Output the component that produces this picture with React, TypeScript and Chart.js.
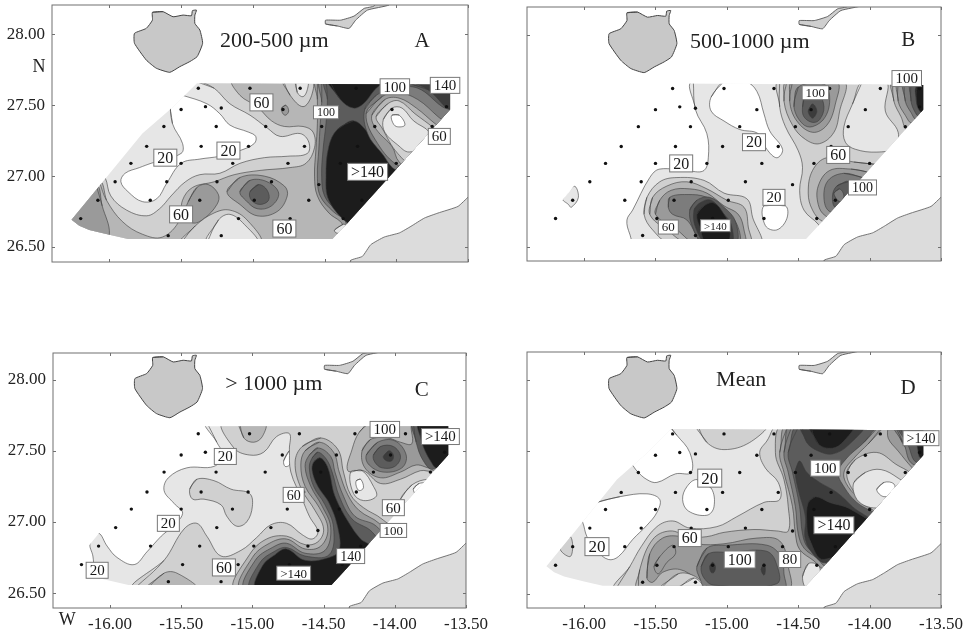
import { useEffect, useRef } from "react";
import { Chart, registerables } from "chart.js";
Chart.register(...registerables);

type P = number[][];

const xTickValues = [-16, -15.5, -15, -14.5, -14, -13.5];
const yTickValues = [26.5, 27, 27.5, 28];

const stationLon = [-15.38,-15.02,-14.67,-14.28,-13.925,-13.65,-15.5,-15.33,-15.22,-14.79,-14.41,-14.03,-13.65,-15.62,-15.255,-14.91,-14.52,-14.15,-13.75,-15.74,-15.36,-15.03,-14.64,-14.27,-15.85,-15.5,-15.14,-14.755,-14.39,-14.0,-15.96,-15.6,-15.25,-14.87,-14.54,-16.08,-15.715,-15.37,-14.99,-14.61,-14.24,-16.2,-15.49,-15.1,-14.74,-14.37,-15.59,-15.22];
const stationLat = [27.62,27.62,27.62,27.62,27.62,27.62,27.47,27.49,27.48,27.47,27.47,27.47,27.49,27.35,27.35,27.35,27.35,27.35,27.35,27.21,27.21,27.21,27.21,27.21,27.09,27.09,27.09,27.09,27.09,27.09,26.96,26.96,26.96,26.96,26.94,26.83,26.83,26.83,26.83,26.83,26.83,26.7,26.7,26.7,26.7,26.7,26.58,26.58];

const granCanaria: P = [[-15.7,28.155],[-15.626,28.16],[-15.556,28.124],[-15.486,28.136],[-15.428,28.131],[-15.421,28.167],[-15.393,28.171],[-15.404,28.136],[-15.404,28.077],[-15.369,28.03],[-15.35,27.937],[-15.388,27.843],[-15.439,27.808],[-15.509,27.772],[-15.579,27.732],[-15.673,27.761],[-15.743,27.819],[-15.825,27.937],[-15.825,28.007],[-15.743,28.042],[-15.7,28.1]];
const fuerteventura: P = [[-14.493,28.073],[-14.411,28.059],[-14.329,28.042],[-14.283,28.1],[-14.201,28.171],[-14.05,28.207],[-14.05,28.25],[-14.154,28.25],[-14.154,28.2],[-14.224,28.183],[-14.294,28.129],[-14.388,28.1],[-14.493,28.1]];
const africa: P = [[-14.318,26.364],[-14.318,26.406],[-14.236,26.434],[-14.178,26.516],[-14.084,26.57],[-13.979,26.599],[-13.897,26.646],[-13.804,26.704],[-13.71,26.739],[-13.57,26.786],[-13.493,26.857],[-13.45,26.88],[-13.45,26.364]];
const domain: P = [[-15.39,27.655],[-13.625,27.645],[-13.625,27.47],[-14.34,26.67],[-14.445,26.556],[-15.87,26.556],[-16.0,26.586],[-16.14,26.62],[-16.21,26.65],[-16.264,26.692],[-16.09,26.905],[-15.77,27.3],[-15.555,27.49]];
const domainC: P = [[-15.39,27.672],[-13.625,27.672],[-13.625,27.47],[-14.34,26.67],[-14.445,26.556],[-15.87,26.556],[-16.0,26.586],[-16.14,26.62],[-16.21,26.65],[-16.264,26.692],[-16.09,26.905],[-15.77,27.3],[-15.555,27.49]];

const outerA: P = [[-16.33,26.72],[-16.12,26.43],[-14.2,26.42],[-13.52,27.54],[-13.52,27.7],[-14.43,27.7]];
const outerB: P = [[-14.2,26.42],[-13.52,27.54],[-13.52,27.7]];
const outerC: P = [[-13.52,27.7],[-13.52,27.54],[-14.2,26.42]];

// Panel A
const a2: P = [[-15.4,27.68],[-15.27,27.62],[-15.16,27.51],[-15.02,27.43],[-14.9,27.34],[-14.81,27.28],[-14.67,27.3],[-14.61,27.24],[-14.62,27.16],[-14.76,27.14],[-14.92,27.13],[-15.09,27.09],[-15.23,27.02],[-15.37,27.01],[-15.47,26.96],[-15.57,26.86],[-15.65,26.77],[-15.74,26.72],[-15.88,26.76],[-15.99,26.86],[-16.03,26.99],[-16.07,27.02],...outerA];
const a0: P = [[-15.58,27.54],[-15.56,27.37],[-15.49,27.23],[-15.5,27.16],[-15.71,27.09],[-15.79,27.06],[-15.89,27.02],[-15.92,26.96],[-15.87,26.89],[-15.77,26.82],[-15.67,26.84],[-15.6,26.95],[-15.5,27.09],[-15.37,27.12],[-15.23,27.14],[-15.09,27.18],[-14.99,27.23],[-14.98,27.28],[-15.03,27.31],[-15.16,27.36],[-15.23,27.44],[-15.32,27.51],[-15.49,27.57],[-15.56,27.59]];
const a3: P = [[-16.07,26.96],[-16.02,26.83],[-15.91,26.68],[-15.77,26.59],[-15.63,26.57],[-15.51,26.69],[-15.49,26.83],[-15.42,26.92],[-15.27,26.96],[-15.13,27.01],[-14.95,27.04],[-14.74,27.06],[-14.63,27.09],[-14.57,27.2],[-14.58,27.31],[-14.65,27.35],[-14.78,27.35],[-14.87,27.39],[-14.97,27.49],[-15.09,27.57],[-15.14,27.68],[-14.43,27.7],[-13.52,27.7],[-13.52,27.54],[-14.2,26.42],[-16.12,26.43],[-16.33,26.72]];
const aCorner: P = [[-16.09,26.93],[-16.05,26.79],[-16.0,26.59],[-16.07,26.5],[-16.33,26.6],[-16.3,26.74]];
const aBlob: P = [[-15.45,26.82],[-15.39,26.92],[-15.31,26.94],[-15.24,26.87],[-15.25,26.8],[-15.34,26.7],[-15.42,26.67],[-15.47,26.74]];
const aBot2: P = [[-15.5,26.53],[-15.4,26.65],[-15.27,26.74],[-15.16,26.76],[-15.04,26.69],[-14.95,26.53]];
const aBot1: P = [[-15.32,26.53],[-15.24,26.69],[-15.16,26.73],[-15.06,26.66],[-14.97,26.53]];
const aC4: P = [[-15.18,26.89],[-15.09,26.99],[-14.92,27.0],[-14.78,26.93],[-14.76,26.86],[-14.83,26.75],[-14.97,26.72],[-15.09,26.8]];
const aC5: P = [[-15.09,26.89],[-15.02,26.97],[-14.9,26.96],[-14.82,26.88],[-14.87,26.79],[-14.97,26.77],[-15.05,26.83]];
const aC6: P = [[-15.02,26.89],[-14.96,26.94],[-14.9,26.9],[-14.89,26.83],[-14.95,26.8],[-15.01,26.83]];
const aTop2: P = [[-14.79,27.68],[-14.74,27.57],[-14.65,27.49],[-14.59,27.57],[-14.59,27.68]];
const aTop1: P = [[-14.7,27.68],[-14.69,27.59],[-14.65,27.56],[-14.62,27.61],[-14.62,27.68]];
const aSpot: P = [[-14.8,27.48],[-14.77,27.5],[-14.75,27.46],[-14.77,27.43],[-14.79,27.44]];
const aR4: P = [[-14.55,27.68],[-14.55,27.54],[-14.55,27.37],[-14.56,27.19],[-14.57,27.0],[-14.55,26.86],[-14.47,26.74],[-14.39,26.68],[-14.34,26.62],[-13.96,26.6],[-13.52,27.54],[-13.52,27.7]];
const aR5: P = [[-14.52,27.68],[-14.52,27.52],[-14.53,27.37],[-14.54,27.19],[-14.55,27.0],[-14.53,26.86],[-14.44,26.75],[-14.36,26.69],[-14.33,26.62],[-13.96,26.6],[-13.52,27.54],[-13.52,27.7]];
const aR6: P = [[-14.49,27.68],[-14.48,27.54],[-14.49,27.37],[-14.51,27.19],[-14.52,27.0],[-14.5,26.86],[-14.42,26.76],[-14.35,26.7],[-14.32,26.62],[-13.96,26.6],[-13.52,27.54],[-13.52,27.7]];
const aBlackTop: P = [[-14.47,27.68],[-14.39,27.54],[-14.3,27.48],[-14.23,27.51],[-14.15,27.61],[-14.08,27.68]];
const aBlackLow: P = [[-14.3,27.39],[-14.41,27.33],[-14.47,27.21],[-14.49,27.0],[-14.47,26.83],[-14.34,26.67],[-14.2,26.6],[-13.85,27.02],[-14.08,27.16],[-14.2,27.31]];
const aTopRight: P = [[-13.96,27.68],[-13.78,27.61],[-13.61,27.46],[-13.52,27.54],[-13.52,27.7]];
const aRing5: P = [[-14.22,27.47],[-14.14,27.57],[-14.01,27.62],[-13.85,27.62],[-13.68,27.49],[-13.57,27.43],[-13.73,27.07],[-13.99,27.04],[-14.1,27.16],[-14.2,27.3]];
const aRing4: P = [[-14.21,27.44],[-14.1,27.56],[-13.99,27.59],[-13.85,27.54],[-13.71,27.42],[-13.57,27.3],[-13.78,27.02],[-13.98,27.07],[-14.13,27.23]];
const aRing3: P = [[-14.17,27.43],[-14.08,27.54],[-13.98,27.55],[-13.86,27.48],[-13.73,27.37],[-13.61,27.28],[-13.87,27.04],[-13.98,27.1],[-14.03,27.21],[-14.14,27.33]];
const aRing2: P = [[-14.14,27.42],[-14.06,27.51],[-13.98,27.53],[-13.87,27.44],[-13.74,27.34],[-13.66,27.26],[-13.87,27.08],[-13.99,27.16],[-14.1,27.34]];
const aRing1: P = [[-14.09,27.4],[-14.03,27.48],[-13.96,27.48],[-13.88,27.39],[-13.77,27.31],[-13.77,27.23],[-13.91,27.17],[-13.99,27.22],[-14.08,27.31]];
const aRing0: P = [[-14.03,27.43],[-13.98,27.43],[-13.94,27.36],[-14.0,27.35],[-14.03,27.39]];
const aSmall: P = [[-14.43,26.62],[-14.37,26.66],[-14.35,26.65],[-14.39,26.6],[-14.42,26.6]];

// Panel B
const b1: P = [[-15.235,27.67],[-15.22,27.47],[-15.14,27.3],[-15.13,27.13],[-15.16,27.04],[-15.26,27.035],[-15.47,27.05],[-15.54,26.99],[-15.66,26.76],[-15.7,26.69],[-15.68,26.59],[-15.64,26.52],...outerB];
const bSpot: P = [[-16.15,26.84],[-16.07,26.93],[-16.04,26.85],[-16.09,26.78],[-16.11,26.8]];
const bHole1: P = [[-15.02,27.67],[-15.11,27.56],[-15.11,27.46],[-15.02,27.39],[-14.91,27.33],[-14.78,27.3],[-14.72,27.19],[-14.65,27.13],[-14.61,27.19],[-14.7,27.32],[-14.74,27.44],[-14.79,27.6],[-14.87,27.67]];
const bHole2: P = [[-14.74,26.79],[-14.59,26.79],[-14.58,26.7],[-14.65,26.62],[-14.73,26.65]];
const b2: P = [[-14.63,27.67],[-14.63,27.49],[-14.59,27.35],[-14.5,27.18],[-14.47,27.06],[-14.49,26.9],[-14.46,26.76],[-14.36,26.66],[-14.32,26.59],...outerB];
const bRightHole: P = [[-14.05,27.67],[-14.12,27.51],[-14.18,27.35],[-14.17,27.24],[-14.1,27.19],[-13.95,27.17],[-13.83,27.2],[-13.8,27.31],[-13.89,27.46],[-13.88,27.67]];
const bE3: P = [[-13.84,27.67],[-13.83,27.53],[-13.78,27.42],[-13.73,27.32],[-13.55,27.35],[-13.55,27.67]];
const bE4: P = [[-13.8,27.67],[-13.8,27.53],[-13.75,27.43],[-13.7,27.37],[-13.55,27.37],[-13.55,27.67]];
const bE5: P = [[-13.76,27.67],[-13.75,27.53],[-13.71,27.45],[-13.67,27.4],[-13.55,27.45],[-13.55,27.67]];
const bE6: P = [[-13.71,27.67],[-13.71,27.53],[-13.68,27.45],[-13.65,27.42],[-13.55,27.45],[-13.55,27.67]];
const bE7: P = [[-13.67,27.64],[-13.67,27.51],[-13.63,27.45],[-13.55,27.53],[-13.55,27.67]];
const bT3: P = [[-14.58,27.67],[-14.6,27.53],[-14.54,27.36],[-14.45,27.26],[-14.35,27.23],[-14.25,27.31],[-14.21,27.46],[-14.18,27.67]];
const bT4: P = [[-14.54,27.67],[-14.56,27.53],[-14.51,27.39],[-14.4,27.31],[-14.3,27.36],[-14.24,27.51],[-14.23,27.67]];
const bT5: P = [[-14.5,27.63],[-14.53,27.49],[-14.47,27.37],[-14.4,27.35],[-14.31,27.42],[-14.28,27.56],[-14.32,27.65]];
const bT6: P = [[-14.47,27.49],[-14.45,27.58],[-14.36,27.58],[-14.32,27.49],[-14.35,27.4],[-14.4,27.38],[-14.46,27.42]];
const bT7: P = [[-14.43,27.46],[-14.4,27.51],[-14.37,27.46],[-14.4,27.41]];
const bL3: P = [[-13.92,27.08],[-14.11,27.1],[-14.3,27.13],[-14.4,27.04],[-14.43,26.88],[-14.4,26.76],[-14.33,26.68],[-14.09,26.59],[-13.62,27.06]];
const bL4: P = [[-14.02,27.03],[-14.13,27.05],[-14.28,27.04],[-14.36,26.93],[-14.36,26.8],[-14.31,26.72],[-14.09,26.62],[-13.74,26.92]];
const bL5: P = [[-14.05,26.99],[-14.18,27.02],[-14.29,26.97],[-14.32,26.85],[-14.28,26.75],[-14.09,26.71],[-13.9,26.92]];
const bL6: P = [[-14.15,26.96],[-14.23,26.93],[-14.26,26.86],[-14.24,26.78],[-14.15,26.83]];
const bL7: P = [[-14.25,26.88],[-14.21,26.91],[-14.18,26.86],[-14.21,26.82]];
const bS2: P = [[-15.58,26.73],[-15.56,26.85],[-15.47,26.96],[-15.35,26.99],[-15.16,26.97],[-15.02,26.88],[-14.86,26.84],[-14.82,26.71],[-14.77,26.52],[-15.4,26.53],[-15.52,26.62]];
const bS3: P = [[-15.54,26.73],[-15.52,26.85],[-15.42,26.93],[-15.28,26.96],[-15.14,26.91],[-15.0,26.83],[-14.88,26.78],[-14.85,26.64],[-14.84,26.52],[-15.26,26.52],[-15.42,26.62]];
const bS4: P = [[-15.5,26.73],[-15.47,26.83],[-15.39,26.9],[-15.26,26.91],[-15.14,26.88],[-15.02,26.79],[-14.92,26.73],[-14.88,26.62],[-14.88,26.52],[-15.21,26.52],[-15.35,26.62]];
const bS5: P = [[-15.41,26.78],[-15.4,26.85],[-15.28,26.87],[-15.14,26.85],[-15.02,26.76],[-14.93,26.66],[-14.92,26.52],[-15.16,26.52],[-15.28,26.69],[-15.38,26.73]];
const bS6: P = [[-15.26,26.76],[-15.21,26.83],[-15.12,26.85],[-15.02,26.78],[-14.94,26.68],[-14.94,26.52],[-15.16,26.52],[-15.24,26.64]];
const bS7: P = [[-15.23,26.76],[-15.19,26.81],[-15.11,26.83],[-15.02,26.73],[-14.97,26.66],[-14.97,26.52],[-15.14,26.52],[-15.22,26.64]];
const bS8: P = [[-15.21,26.73],[-15.16,26.79],[-15.09,26.81],[-15.02,26.73],[-14.98,26.64],[-15.0,26.52],[-15.14,26.52],[-15.19,26.64]];

// Panel C
const c1: P = [[-15.32,27.7],[-15.25,27.56],[-15.21,27.47],[-15.27,27.39],[-15.46,27.38],[-15.59,27.31],[-15.62,27.22],[-15.55,27.13],[-15.49,27.06],[-15.57,26.96],[-15.64,26.9],[-15.74,26.79],[-15.83,26.7],[-15.95,26.75],[-16.02,26.83],[-16.08,26.92],[-16.14,26.85],[-16.12,26.76],[-16.11,26.66],[-16.09,26.52],[-15.0,26.43],...outerB];
const c2: P = [[-15.83,26.53],[-15.62,26.73],[-15.48,26.95],[-15.39,26.99],[-15.32,26.9],[-15.22,26.76],[-15.08,26.8],[-14.97,26.89],[-14.87,26.98],[-14.76,26.99],[-14.65,26.91],[-14.58,26.88],[-14.54,26.93],[-14.6,27.04],[-14.65,27.16],[-14.73,27.35],[-14.74,27.51],[-14.74,27.62],[-14.83,27.6],[-14.92,27.49],[-15.02,27.47],[-15.13,27.52],[-15.2,27.7],...outerC];
const cWhite: P = [[-14.78,27.43],[-14.74,27.5],[-14.72,27.46],[-14.74,27.4],[-14.77,27.39]];
const cBlob: P = [[-15.44,27.23],[-15.39,27.3],[-15.27,27.29],[-15.15,27.23],[-15.02,27.2],[-15.0,27.11],[-15.04,27.0],[-15.11,26.97],[-15.18,27.04],[-15.22,27.12],[-15.34,27.16],[-15.42,27.16]];
const cBot3: P = [[-15.74,26.53],[-15.62,26.64],[-15.53,26.64],[-15.39,26.53]];
const cTop3: P = [[-15.09,27.7],[-15.06,27.59],[-14.99,27.56],[-14.93,27.6],[-14.91,27.7]];
const cRib1: P = [[-14.52,27.59],[-14.65,27.53],[-14.7,27.42],[-14.66,27.24],[-14.56,27.08],[-14.5,26.95],[-14.54,26.86],[-14.63,26.84],[-14.76,26.9],[-14.9,26.88],[-15.02,26.77],[-15.12,26.53],[-14.43,26.53],[-13.96,26.88],[-14.09,27.02],[-14.22,27.1],[-14.31,27.19],[-14.36,27.35],[-14.4,27.51]];
const cRib2: P = [[-14.53,27.56],[-14.63,27.5],[-14.66,27.4],[-14.63,27.25],[-14.53,27.1],[-14.47,26.95],[-14.52,26.83],[-14.63,26.81],[-14.76,26.88],[-14.88,26.85],[-15.0,26.75],[-15.08,26.53],[-14.43,26.53],[-14.0,26.85],[-14.11,26.99],[-14.25,27.08],[-14.33,27.19],[-14.39,27.35],[-14.43,27.49]];
const cRib3: P = [[-14.54,27.52],[-14.6,27.47],[-14.63,27.39],[-14.59,27.25],[-14.51,27.11],[-14.45,26.96],[-14.49,26.8],[-14.63,26.78],[-14.76,26.85],[-14.86,26.82],[-14.98,26.73],[-15.05,26.53],[-14.43,26.53],[-14.05,26.83],[-14.13,26.97],[-14.28,27.04],[-14.36,27.18],[-14.42,27.35],[-14.45,27.46]];
const cRib4: P = [[-14.54,27.49],[-14.58,27.45],[-14.6,27.38],[-14.57,27.25],[-14.49,27.12],[-14.43,26.96],[-14.46,26.77],[-14.63,26.76],[-14.76,26.82],[-14.85,26.79],[-14.95,26.71],[-15.01,26.53],[-14.43,26.53],[-14.1,26.8],[-14.16,26.93],[-14.3,27.02],[-14.39,27.18],[-14.44,27.35],[-14.48,27.44]];
const cRib5: P = [[-14.53,27.45],[-14.57,27.42],[-14.58,27.36],[-14.54,27.25],[-14.46,27.13],[-14.4,26.96],[-14.39,26.8],[-14.46,26.75],[-14.63,26.73],[-14.76,26.81],[-14.84,26.77],[-14.93,26.69],[-14.97,26.53],[-14.43,26.53],[-14.17,26.82],[-14.24,26.88],[-14.32,26.99],[-14.42,27.18],[-14.46,27.35],[-14.49,27.42]];
const cTR3: P = [[-14.17,27.7],[-14.25,27.63],[-14.3,27.51],[-14.33,27.36],[-14.22,27.36],[-14.1,27.27],[-13.96,27.3],[-13.82,27.36],[-13.73,27.36],[-13.54,27.49],[-13.54,27.7]];
const cTR4: P = [[-14.23,27.5],[-14.17,27.58],[-14.05,27.59],[-13.96,27.56],[-13.88,27.55],[-13.87,27.7],[-13.54,27.7],[-13.54,27.49],[-13.73,27.38],[-13.85,27.4],[-13.96,27.35],[-14.1,27.31],[-14.21,27.38]];
const cTR5: P = [[-14.2,27.47],[-14.12,27.56],[-14.0,27.57],[-13.92,27.47],[-13.95,27.38],[-14.08,27.35],[-14.18,27.4]];
const cTR6: P = [[-14.15,27.47],[-14.1,27.53],[-14.01,27.53],[-13.96,27.46],[-14.0,27.39],[-14.09,27.38],[-14.14,27.42]];
const cTR7: P = [[-14.08,27.46],[-14.04,27.5],[-14.01,27.47],[-14.02,27.43],[-14.06,27.43]];
const cCorner6: P = [[-13.87,27.7],[-13.85,27.56],[-13.8,27.43],[-13.73,27.37],[-13.54,27.53],[-13.54,27.7]];
const cCorner8: P = [[-13.83,27.7],[-13.81,27.56],[-13.75,27.43],[-13.7,27.38],[-13.54,27.53],[-13.54,27.7]];
const cSpot1: P = [[-14.31,27.35],[-14.23,27.36],[-14.15,27.25],[-14.13,27.18],[-14.22,27.15],[-14.29,27.2]];
const cSpot0: P = [[-14.27,27.29],[-14.24,27.3],[-14.22,27.24],[-14.25,27.22],[-14.27,27.25]];
const cEdge1: P = [[-13.96,27.16],[-13.88,27.26],[-13.76,27.3],[-13.68,27.27],[-13.84,27.06],[-13.94,27.09]];
const cEdge0: P = [[-13.87,27.23],[-13.83,27.27],[-13.75,27.27],[-13.8,27.24],[-13.83,27.17]];

// Panel D
const dWhite1: P = [[-15.42,27.69],[-15.35,27.61],[-15.26,27.49],[-15.25,27.35],[-15.36,27.34],[-15.49,27.28],[-15.56,27.3],[-15.63,27.36],[-15.67,27.41],[-15.77,27.47],[-15.49,27.7]];
const dWhite2: P = [[-15.91,27.14],[-15.75,27.18],[-15.56,27.2],[-15.47,27.16],[-15.49,27.07],[-15.56,26.98],[-15.66,26.88],[-15.76,26.76],[-15.83,26.74],[-15.91,26.8],[-15.98,26.9],[-16.01,27.0],[-16.05,27.07]];
const dWhite3: P = [[-15.21,27.3],[-15.11,27.24],[-15.09,27.11],[-15.14,27.05],[-15.27,27.08],[-15.31,27.16],[-15.28,27.25]];
const dSpot: P = [[-16.17,26.82],[-16.1,26.9],[-16.08,26.83],[-16.1,26.76]];
const dTop2: P = [[-15.21,27.69],[-15.14,27.56],[-15.02,27.51],[-14.84,27.56],[-14.72,27.69]];
const d2: P = [[-15.78,26.53],[-15.68,26.69],[-15.6,26.83],[-15.49,26.97],[-15.38,27.01],[-15.26,26.96],[-15.07,26.97],[-14.93,27.04],[-14.74,27.14],[-14.63,27.16],[-14.64,27.28],[-14.73,27.38],[-14.77,27.49],[-14.72,27.57],[-14.63,27.69],...outerC];
const d3: P = [[-15.62,26.53],[-15.61,26.67],[-15.52,26.88],[-15.4,26.94],[-15.26,26.9],[-15.14,26.9],[-15.02,26.93],[-14.81,26.95],[-14.65,26.94],[-14.57,26.94],[-14.57,27.11],[-14.6,27.3],[-14.66,27.49],[-14.6,27.69],...outerC];
const d4: P = [[-15.56,26.61],[-15.54,26.78],[-15.45,26.89],[-15.32,26.9],[-15.21,26.85],[-15.02,26.85],[-14.79,26.89],[-14.63,26.87],[-14.57,26.69],[-14.57,26.53],[-15.14,26.53],[-15.21,26.6],[-15.33,26.67],[-15.45,26.65],[-15.52,26.58]];
const dBot2: P = [[-15.47,26.53],[-15.34,26.64],[-15.22,26.62],[-15.14,26.53]];
const dBot1: P = [[-15.35,26.53],[-15.23,26.61],[-15.16,26.53]];
const dCorner1: P = [[-14.47,26.62],[-14.43,26.71],[-14.36,26.7],[-14.35,26.64],[-14.44,26.54]];
const dBlob: P = [[-15.51,26.69],[-15.47,26.76],[-15.38,26.84],[-15.36,26.78],[-15.42,26.72],[-15.48,26.64]];
const dC5: P = [[-15.21,26.69],[-15.14,26.82],[-15.0,26.84],[-14.72,26.84],[-14.62,26.76],[-14.6,26.64],[-14.6,26.53],[-15.14,26.53],[-15.19,26.61]];
const dC6: P = [[-15.18,26.69],[-15.13,26.78],[-14.98,26.79],[-14.73,26.8],[-14.66,26.73],[-14.65,26.57],[-15.09,26.56],[-15.16,26.61]];
const dDot1: P = [[-15.12,26.69],[-15.1,26.72],[-15.08,26.69],[-15.09,26.65],[-15.11,26.65]];
const dDot2: P = [[-14.76,26.67],[-14.74,26.71],[-14.73,26.67],[-14.74,26.63]];
const dW4: P = [[-14.57,27.69],[-14.63,27.49],[-14.6,27.35],[-14.54,27.11],[-14.52,26.92],[-14.49,26.81],[-14.39,26.73],[-14.32,26.67],[-14.1,26.6],[-13.52,27.54],[-13.52,27.7]];
const dW5: P = [[-14.54,27.69],[-14.6,27.49],[-14.57,27.35],[-14.52,27.11],[-14.5,26.92],[-14.46,26.82],[-14.37,26.75],[-14.31,26.69],[-14.1,26.6],[-13.52,27.54],[-13.52,27.7]];
const dW6: P = [[-14.49,27.69],[-14.57,27.49],[-14.54,27.35],[-14.49,27.11],[-14.47,26.92],[-14.43,26.82],[-14.33,26.76],[-14.3,26.71],[-14.1,26.6],[-13.52,27.54],[-13.52,27.7]];
const dRibbon: P = [[-14.49,27.43],[-14.52,27.36],[-14.5,27.23],[-14.45,27.04],[-14.45,26.88],[-14.38,26.76],[-14.3,26.72],[-13.97,26.97],[-14.12,27.11],[-14.23,27.21],[-14.35,27.28],[-14.44,27.35]];
const dBlack: P = [[-14.38,27.18],[-14.43,27.14],[-14.44,27.0],[-14.42,26.88],[-14.32,26.74],[-13.97,26.95],[-14.13,27.09],[-14.28,27.14]];
const dTop7: P = [[-14.48,27.69],[-14.44,27.56],[-14.36,27.5],[-14.26,27.48],[-14.15,27.54],[-14.04,27.69]];
const dTop8: P = [[-14.42,27.69],[-14.36,27.55],[-14.26,27.52],[-14.18,27.57],[-14.11,27.69]];
const dRa: P = [[-13.92,27.69],[-14.04,27.56],[-14.16,27.45],[-14.22,27.35],[-14.18,27.25],[-14.09,27.14],[-13.97,27.07],[-13.78,26.97],[-13.52,27.3],[-13.64,27.42],[-13.76,27.54],[-13.84,27.69]];
const dRb: P = [[-13.88,27.69],[-14.01,27.55],[-14.11,27.45],[-14.18,27.35],[-14.15,27.25],[-14.06,27.16],[-13.97,27.1],[-13.83,27.04],[-13.57,27.25],[-13.7,27.38],[-13.8,27.5],[-13.87,27.59]];
const dRc: P = [[-14.16,27.35],[-14.1,27.44],[-13.95,27.49],[-13.82,27.41],[-13.7,27.32],[-13.76,27.18],[-13.92,27.07],[-14.04,27.14],[-14.12,27.23]];
const dRd: P = [[-14.11,27.28],[-14.03,27.35],[-13.92,27.37],[-13.8,27.31],[-13.74,27.25],[-13.83,27.11],[-13.95,27.1],[-14.04,27.12],[-14.1,27.18]];
const dRe: P = [[-13.95,27.23],[-13.9,27.28],[-13.83,27.27],[-13.83,27.21],[-13.9,27.18]];
const dTR5: P = [[-13.83,27.69],[-13.76,27.55],[-13.7,27.41],[-13.52,27.4],[-13.52,27.7]];
const dTR6: P = [[-13.8,27.69],[-13.73,27.54],[-13.67,27.42],[-13.52,27.45],[-13.52,27.7]];
const dTR8: P = [[-13.74,27.69],[-13.67,27.54],[-13.64,27.45],[-13.52,27.5],[-13.52,27.7]];

const bandsA: [number, P][] = [[2,a2],[0,a0],[3,a3],[4,aCorner],[4,aBlob],[2,aBot2],[1,aBot1],[4,aC4],[5,aC5],[6,aC6],[2,aTop2],[1,aTop1],[4,aSpot],[4,aR4],[5,aR5],[6,aR6],[8,aBlackTop],[8,aBlackLow],[7,aTopRight],[5,aRing5],[4,aRing4],[3,aRing3],[2,aRing2],[1,aRing1],[0,aRing0],[1,aSmall]];
const bandsB: [number, P][] = [[1,b1],[1,bSpot],[0,bHole1],[0,bHole2],[2,b2],[1,bRightHole],[3,bE3],[4,bE4],[5,bE5],[6,bE6],[8,bE7],[3,bT3],[4,bT4],[5,bT5],[6,bT6],[7,bT7],[3,bL3],[4,bL4],[5,bL5],[6,bL6],[5,bL7],[2,bS2],[3,bS3],[4,bS4],[5,bS5],[6,bS6],[7,bS7],[8,bS8]];
const bandsC: [number, P][] = [[1,c1],[0,cWhite],[2,c2],[2,cBlob],[3,cBot3],[3,cTop3],[3,cRib1],[4,cRib2],[5,cRib3],[6,cRib4],[8,cRib5],[3,cTR3],[4,cTR4],[5,cTR5],[6,cTR6],[7,cTR7],[6,cCorner6],[8,cCorner8],[1,cSpot1],[0,cSpot0],[1,cEdge1],[0,cEdge0]];
const bandsD: [number, P][] = [[0,dWhite1],[0,dWhite2],[0,dWhite3],[2,dSpot],[2,dTop2],[2,d2],[3,d3],[4,d4],[2,dBot2],[1,dBot1],[1,dCorner1],[4,dBlob],[5,dC5],[6,dC6],[7,dDot1],[7,dDot2],[4,dW4],[5,dW5],[6,dW6],[7,dRibbon],[8,dBlack],[7,dTop7],[8,dTop8],[4,dRa],[3,dRb],[2,dRc],[1,dRd],[0,dRe],[5,dTR5],[6,dTR6],[8,dTR8]];

const labelsAText = ["60","100","100","140","60",">140","20","20","60","60"];
const labelsALon = [-14.94,-14.49,-14.01,-13.66,-13.7,-14.2,-15.17,-15.61,-15.5,-14.78];
const labelsALat = [27.52,27.45,27.63,27.64,27.28,27.03,27.18,27.13,26.73,26.63];
const labelsASize = [16,12,15,15,15,16,16,16,16,16];
const labelsBText = ["100","100","20","20","60","100","20","60",">140"];
const labelsBLon = [-13.74,-14.38,-14.81,-15.32,-14.22,-14.05,-14.67,-15.41,-15.08];
const labelsBLat = [27.69,27.59,27.24,27.09,27.15,26.92,26.85,26.64,26.65];
const labelsBSize = [15,13,16,16,16,14,15,13,11];
const labelsCText = ["100",">140","20","60","60","100","140",">140","60","20","20"];
const labelsCLon = [-14.07,-13.68,-15.19,-14.71,-14.01,-14.01,-14.31,-14.71,-15.2,-15.59,-16.09];
const labelsCLat = [27.65,27.6,27.46,27.19,27.1,26.94,26.76,26.64,26.68,26.99,26.66];
const labelsCSize = [15,15,15,14,15,13,14,13,16,15,15];
const labelsDText = [">140","100","20",">140","60","20","100","80"];
const labelsDLon = [-13.64,-14.31,-15.12,-14.25,-15.26,-15.91,-14.91,-14.56];
const labelsDLat = [27.59,27.38,27.31,26.98,26.89,26.83,26.74,26.74];
const labelsDSize = [14,15,17,16,16,17,16,15];

const levelColors = ["#ffffff","#e6e6e6","#d0d0d0","#b6b6b6","#9a9a9a","#7c7c7c","#5c5c5c","#3c3c3c","#1c1c1c"];
const serif = '"Liberation Serif"';

const panels = [
  { box: [0, 0, 490, 290], yw: 52, top: 5, right: 22, xh: 28, yr: [26.394, 28.207], base: 1, bands: bandsA, xl: false, yl: true, dom: domain,
    lt: labelsAText, lx: labelsALon, ly: labelsALat, ls: labelsASize,
    texts: [["200-500 µm", -14.85, 27.965, 22], ["A", -13.82, 27.965, 21], ["N", -16.49, 27.785, 18]] },
  { box: [490, 0, 484, 290], yw: 37, top: 7, right: 33, xh: 29, yr: [26.4, 28.196], base: 0, bands: bandsB, xl: false, yl: false, dom: domain,
    lt: labelsBText, lx: labelsBLon, ly: labelsBLat, ls: labelsBSize,
    texts: [["500-1000 µm", -14.84, 27.96, 22], ["B", -13.73, 27.97, 21]] },
  { box: [0, 340, 510, 293], yw: 53, top: 13, right: 44, xh: 25, yr: [26.395, 28.187], base: 0, bands: bandsC, xl: true, yl: true, dom: domainC,
    lt: labelsCText, lx: labelsCLon, ly: labelsCLat, ls: labelsCSize,
    texts: [["> 1000 µm", -14.85, 27.98, 22], ["C", -13.81, 27.94, 21], ["W", -16.3, 26.32, 18]] },
  { box: [490, 340, 484, 293], yw: 37, top: 12, right: 33, xh: 25, yr: [26.4, 28.194], base: 1, bands: bandsD, xl: true, yl: false, dom: domain,
    lt: labelsDText, lx: labelsDLon, ly: labelsDLat, ls: labelsDSize,
    texts: [["Mean", -14.9, 28.01, 22], ["D", -13.73, 27.95, 21]] },
];

const toXY = (p: P) => p.map(([x, y]) => ({ x, y }));
const poly = (p: P, color: string, stroke: string, width: number, tension: number, inDomain: boolean) => ({
  data: toXY([...p, p[0], p[1]]), showLine: true, fill: false, tension,
  borderColor: stroke, borderWidth: width, pointRadius: 0, polyFill: color, inDomain,
});

const mapPlugin = (panel: any) => ({
  id: "map",
  beforeDatasetDraw(chart: any, args: any) {
    const ds = chart.data.datasets[args.index];
    if (!ds.polyFill) return;
    const ctx = chart.ctx, a = chart.chartArea;
    ctx.save();
    ctx.beginPath();
    ctx.rect(a.left, a.top, a.right - a.left, a.bottom - a.top);
    ctx.clip();
    if (ds.inDomain) {
      const line = chart.getDatasetMeta(3).dataset;
      line.updateControlPoints(a, "x");
      ctx.beginPath();
      line.path(ctx);
      ctx.closePath();
      ctx.clip();
    }
    const el = args.meta.dataset;
    el.updateControlPoints(a, "x");
    ctx.beginPath();
    el.path(ctx);
    ctx.closePath();
    ctx.fillStyle = ds.polyFill;
    ctx.fill();
  },
  afterDatasetDraw(chart: any, args: any) {
    if (chart.data.datasets[args.index].polyFill) chart.ctx.restore();
  },
  afterDraw(chart: any) {
    const ctx = chart.ctx, a = chart.chartArea, sx = chart.scales.x, sy = chart.scales.y;
    ctx.save();
    ctx.strokeStyle = "#707070";
    ctx.lineWidth = 1;
    ctx.strokeRect(a.left, a.top, a.right - a.left, a.bottom - a.top);
    ctx.beginPath();
    xTickValues.forEach((v) => {
      const x = Math.round(sx.getPixelForValue(v)) + 0.5;
      ctx.moveTo(x, a.top); ctx.lineTo(x, a.top + 3);
      ctx.moveTo(x, a.bottom); ctx.lineTo(x, a.bottom - 3);
    });
    yTickValues.forEach((v) => {
      const y = Math.round(sy.getPixelForValue(v)) + 0.5;
      ctx.moveTo(a.left, y); ctx.lineTo(a.left + 3, y);
      ctx.moveTo(a.right, y); ctx.lineTo(a.right - 3, y);
    });
    ctx.stroke();
    ctx.textAlign = "center";
    ctx.textBaseline = "middle";
    panel.lt.forEach((t: string, i: number) => {
      const size = panel.ls[i];
      ctx.font = `${size}px ${serif}`;
      const w = ctx.measureText(t).width + 7, h = size + 1;
      const x = sx.getPixelForValue(panel.lx[i]), y = sy.getPixelForValue(panel.ly[i]);
      ctx.fillStyle = "#ffffff";
      ctx.fillRect(x - w / 2, y - h / 2, w, h);
      ctx.strokeStyle = "#777777";
      ctx.strokeRect(x - w / 2, y - h / 2, w, h);
      ctx.fillStyle = "#1a1a1a";
      ctx.fillText(t, x, y + 1);
    });
    ctx.fillStyle = "#222222";
    panel.texts.forEach(([t, lon, lat, size]: any) => {
      ctx.font = `${size}px ${serif}`;
      ctx.fillText(t, sx.getPixelForValue(lon), sy.getPixelForValue(lat) + 2);
    });
    ctx.restore();
  },
});

function Panel({ panel }: { panel: any }) {
  const ref = useRef<HTMLCanvasElement>(null);
  useEffect(() => {
    const datasets: any[] = [
      poly(africa, "#dcdcdc", "#666666", 0.9, 0.15, false),
      poly(fuerteventura, "#cfcfcf", "#555555", 0.9, 0.15, false),
      poly(granCanaria, "#c8c8c8", "#444444", 1, 0.15, false),
      poly(panel.dom, panel.base ? levelColors[panel.base] : "#ffffff", "#000000", 0, 0, false),
      ...panel.bands.map(([lv, p]: [number, P]) => poly(p, levelColors[lv], "#3c3c3c", 0.6, 0.38, true)),
      { data: stationLon.map((x, i) => ({ x, y: stationLat[i] })), showLine: false, pointRadius: 1.7,
        pointBackgroundColor: "#111111", pointBorderWidth: 0 },
    ];
    datasets.forEach((d, i) => { d.order = -i; });
    const tickFont = { family: serif, size: 17 };
    const chart = new Chart(ref.current as HTMLCanvasElement, {
      type: "scatter",
      data: { datasets },
      plugins: [mapPlugin(panel)],
      options: {
        responsive: false, animation: false, events: [], devicePixelRatio: 1,
        layout: { padding: { top: panel.top, right: panel.right, left: 0, bottom: 0 } },
        plugins: { legend: { display: false }, tooltip: { enabled: false }, title: { display: false } },
        scales: {
          x: {
            type: "linear", min: -16.4, max: -13.5,
            grid: { display: false, drawTicks: false }, border: { display: false },
            ticks: { display: panel.xl, padding: 6, font: tickFont, color: "#222222", maxRotation: 0, minRotation: 0, autoSkip: false, callback: (v: number) => v.toFixed(2) },
            afterBuildTicks: (s: any) => { s.ticks = xTickValues.map((value) => ({ value })); },
            afterFit: (s: any) => { s.height = panel.xh; s.paddingLeft = 0; s.paddingRight = 0; s.paddingTop = 0; s.paddingBottom = 0; },
          },
          y: {
            type: "linear", min: panel.yr[0], max: panel.yr[1],
            grid: { display: false, drawTicks: false }, border: { display: false },
            ticks: { display: panel.yl, padding: 7, font: tickFont, color: "#222222", autoSkip: false, callback: (v: number) => v.toFixed(2) },
            afterBuildTicks: (s: any) => { s.ticks = yTickValues.map((value) => ({ value })); },
            afterFit: (s: any) => { s.width = panel.yw; s.paddingLeft = 0; s.paddingRight = 0; s.paddingTop = 0; s.paddingBottom = 0; },
          },
        },
      } as any,
    } as any);
    return () => chart.destroy();
  }, [panel]);
  const [left, top, width, height] = panel.box;
  return <canvas ref={ref} width={width} height={height} style={{ position: "absolute", left, top, width, height, display: "block" }} />;
}

export default function App() {
  return (
    <div style={{ position: "absolute", left: 0, top: 0, width: 974, height: 633, background: "#ffffff", overflow: "hidden" }}>
      {panels.map((p, i) => <Panel key={i} panel={p} />)}
    </div>
  );
}
